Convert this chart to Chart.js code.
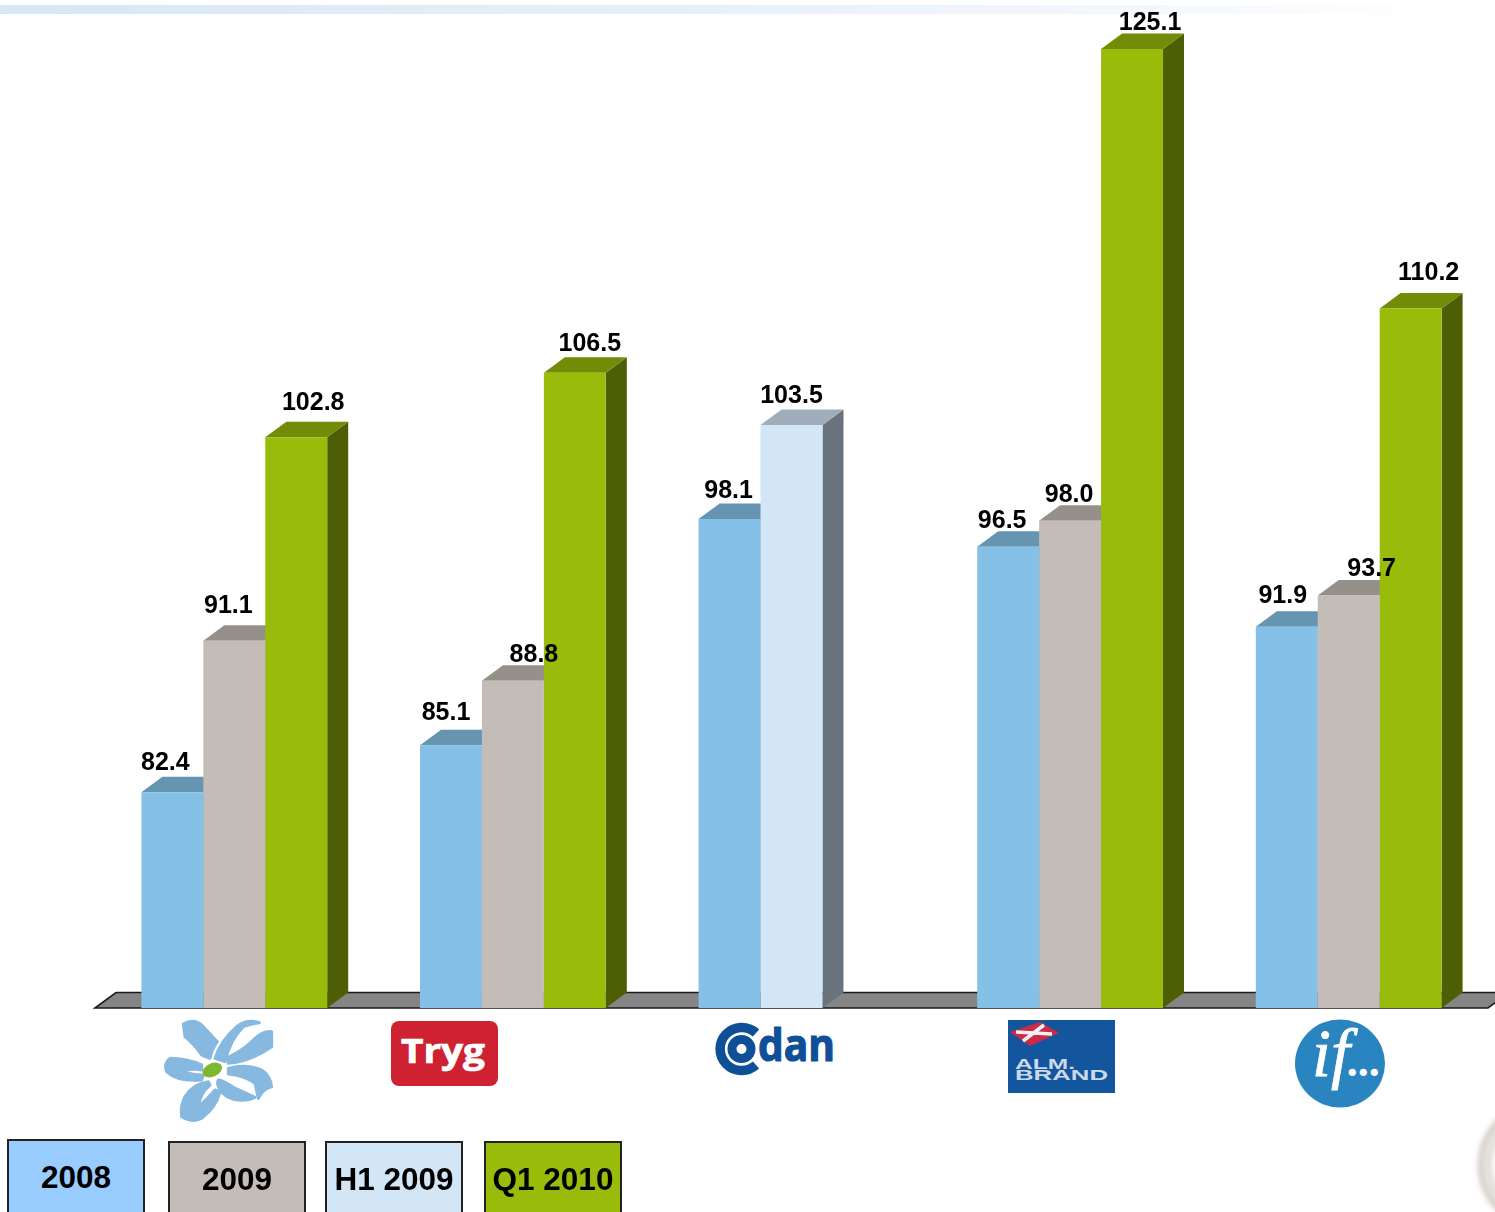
<!DOCTYPE html>
<html>
<head>
<meta charset="utf-8">
<script src="https://cdn.jsdelivr.net/npm/chart.js@4/dist/chart.umd.min.js"></script>
<style>
html,body{margin:0;padding:0;background:#fff;width:1495px;height:1212px;overflow:hidden;font-family:"Liberation Sans",Arial,sans-serif}
#band{position:absolute;left:0;top:5px;width:1495px;height:9px;background:linear-gradient(90deg,#d8e7f5 0%,#e6eff8 45%,#f3f7fc 75%,#ffffff 97%)}
#wrap{position:absolute;left:0;top:0;width:1495px;height:1212px}
#art{position:absolute;left:0;top:0}
.key{position:absolute;box-sizing:border-box;width:138px;height:76px;border:2px solid #222;display:flex;align-items:center;justify-content:center;font:bold 31.5px "Liberation Sans",Arial,sans-serif;color:#000;white-space:nowrap}
</style>
</head>
<body>
<div id="band"></div>
<svg id="art" width="1495" height="1212" viewBox="0 0 1495 1212" xmlns="http://www.w3.org/2000/svg">
  <defs><filter id="soft"><feGaussianBlur stdDeviation="2.5"/></filter><filter id="soft2"><feGaussianBlur stdDeviation="0.4"/></filter></defs>
  <!-- seal at the corner -->
  <g filter="url(#soft)" fill="none">
    <circle cx="1543" cy="1165" r="62" stroke="#d6d0c9" stroke-width="7"/>
    <circle cx="1543" cy="1165" r="54" stroke="#dfdad4" stroke-width="6"/>
  </g>
  <!-- flower logo -->
  <g transform="translate(130 1000) scale(0.3333)" filter="url(#soft2)">
    <g fill="#86b8e0" stroke="#86b8e0" stroke-width="9" stroke-linejoin="round">
      <path d="M160,72 Q190,55 215,75 L262,125 Q245,150 240,175 L215,165 Q190,130 165,110 Z"/>
      <path d="M388,68 Q350,55 320,80 Q270,125 255,175 L285,185 Q300,120 340,80 Q365,72 388,68 Z"/>
      <path d="M425,95 Q400,90 370,120 Q340,150 295,172 L295,190 Q360,185 425,140 Z"/>
      <path d="M295,205 Q350,190 395,210 Q420,225 425,260 Q400,265 385,295 L375,250 Q340,225 295,222 Z"/>
      <path d="M265,240 Q275,238 310,262 Q350,280 375,292 Q350,305 310,298 Q270,285 262,250 Z"/>
      <path d="M235,245 Q190,250 165,290 Q150,320 155,350 Q190,370 215,355 Q260,320 270,275 L255,270 Q230,300 205,320 Q210,280 240,255 Z"/>
      <path d="M215,195 Q170,175 120,175 Q100,190 110,215 Q140,245 215,240 L220,225 Q180,225 160,212 Q190,205 215,210 Z"/>
    </g>
    <ellipse cx="247" cy="210" rx="31" ry="20" transform="rotate(-25 247 210)" fill="#7fb82e"/>
  </g>
  <!-- Tryg logo -->
  <rect x="391" y="1021" width="107" height="65" rx="8" fill="#ce2233"/>
  <text x="401" y="1063" fill="#fff" stroke="#fff" stroke-width="0.7" font-family="Open Sans" font-weight="700" font-size="34" textLength="84" lengthAdjust="spacingAndGlyphs">Tryg</text>
  <!-- Codan logo -->
  <g fill="none" stroke="#0f4f97">
    <path d="M756,1033 A21.5,21.5 0 1 0 756,1065" stroke-width="9.5"/>
    <circle cx="741.5" cy="1049" r="9.5" stroke-width="9"/>
  </g>
  <text x="758" y="1061" fill="#0f4f97" stroke="#0f4f97" stroke-width="1.2" font-family="Open Sans" font-weight="700" font-size="45" textLength="77" lengthAdjust="spacingAndGlyphs">dan</text>
  <!-- Alm. Brand logo -->
  <rect x="1008" y="1020" width="107" height="73" fill="#13569e"/>
  <path d="M1010,1032 L1040,1022 L1059,1033 L1030,1046 Z" fill="#cf2a45"/>
  <path d="M1016,1032 L1052,1034 M1023,1041 L1044,1025" stroke="#f2f2f2" stroke-width="3.5" fill="none"/>
  <text x="1015" y="1068.5" fill="#cbd9ea" font-family="Liberation Sans" font-weight="700" font-size="14" textLength="60" lengthAdjust="spacingAndGlyphs">ALM.</text>
  <text x="1015" y="1079.5" fill="#cbd9ea" font-family="Liberation Sans" font-weight="700" font-size="14" textLength="93" lengthAdjust="spacingAndGlyphs">BRAND</text>
  <!-- If logo -->
  <ellipse cx="1340" cy="1063.5" rx="45" ry="44" fill="#2a84c0"/>
  <text x="1312" y="1076" fill="#fff" stroke="#fff" stroke-width="0.8" font-family="Liberation Serif" font-style="italic" font-size="68">if<tspan font-style="normal" font-weight="700" font-size="44" dx="-3" stroke-width="0">...</tspan></text>
</svg>
<div id="wrap"><canvas id="c" width="1495" height="1212"></canvas></div>
<div id="legend"></div>
<script>
const categories = ["Topdanmark", "Tryg", "Codan", "Alm. Brand", "If"];
const values2008 = [82.4, 85.1, 98.1, 96.5, 91.9];
const values2009 = [91.1, 88.8, null, 98.0, 93.7];
const valuesH12009 = [null, null, 103.5, null, null];
const valuesQ12010 = [102.8, 106.5, null, 125.1, 110.2];
const seriesNames = ["2008", "2009", "H1 2009", "Q1 2010"];

// styling only
const barColors = ["#85c1e6", "#c4bcb6", "#d3e6f6", "#99bc0a"];
const topColors = ["#6595b0", "#96908b", "#9eadb9", "#728c07"];
const sideColors = ["#4f7a94", "#6f6a66", "#69737c", "#4e5e05"];
const keyColors = ["#99ccff", "#c4bcb6", "#d3e6f6", "#99bc0a"];
const keyBoxes = [[7, 1139], [168, 1141], [325, 1141], [484, 1141]];
const labelShiftX = [[-7, -5, -1, -6, -4], [-6, 21, 0, -1, 23], [0, 0, 0, 0, 0], [17, 15, 0, 18, 18]];
const labelShiftY = [[-29, -32, -28, -26, -31], [-35, -26, 0, -26, -26], [0, 0, -29, 0, 0], [-34, -29, 0, -26, -35]];
const depthX = 21, depthY = 15.5;

const bar3d = {
  id: "bar3d",
  beforeDatasetsDraw(chart) {
    const { ctx, chartArea: a } = chart;
    ctx.save();
    ctx.beginPath();
    ctx.moveTo(a.left, a.bottom);
    ctx.lineTo(a.left + depthX, a.bottom - depthY);
    ctx.lineTo(a.right + depthX, a.bottom - depthY);
    ctx.lineTo(a.right, a.bottom);
    ctx.closePath();
    ctx.fillStyle = "#858585";
    ctx.fill();
    ctx.strokeStyle = "#1c1c1c";
    ctx.lineWidth = 1.6;
    ctx.stroke();
    chart.data.datasets.forEach((ds, i) => {
      chart.getDatasetMeta(i).data.forEach((el, j) => {
        if (ds.data[j] === null) return;
        const p = el.getProps(["x", "y", "width"], true);
        const l = p.x - p.width / 2, r = p.x + p.width / 2;
        ctx.fillStyle = sideColors[i];
        ctx.beginPath();
        ctx.moveTo(r, p.y);
        ctx.lineTo(r + depthX, p.y - depthY);
        ctx.lineTo(r + depthX, a.bottom - depthY);
        ctx.lineTo(r, a.bottom);
        ctx.closePath();
        ctx.fill();
        ctx.fillStyle = topColors[i];
        ctx.beginPath();
        ctx.moveTo(l, p.y);
        ctx.lineTo(l + depthX, p.y - depthY);
        ctx.lineTo(r + depthX, p.y - depthY);
        ctx.lineTo(r, p.y);
        ctx.closePath();
        ctx.fill();
      });
    });
    ctx.restore();
  },
  afterDatasetsDraw(chart) {
    const { ctx } = chart;
    ctx.save();
    ctx.font = 'bold 25px "Liberation Sans", Arial, sans-serif';
    ctx.fillStyle = "#000";
    ctx.textAlign = "center";
    ctx.textBaseline = "middle";
    chart.data.datasets.forEach((ds, i) => {
      chart.getDatasetMeta(i).data.forEach((el, j) => {
        if (ds.data[j] === null) return;
        const p = el.getProps(["x", "y"], true);
        ctx.fillText(ds.data[j].toFixed(1), p.x + labelShiftX[i][j], p.y + labelShiftY[i][j]);
      });
    });
    ctx.restore();
  }
};

const seriesValues = [values2008, values2009, valuesH12009, valuesQ12010];
const slots = ["first", "second", "second", "third"];

new Chart(document.getElementById("c"), {
  type: "bar",
  data: {
    labels: categories,
    datasets: seriesNames.map((name, i) => ({
      label: name,
      data: seriesValues[i],
      stack: slots[i],
      backgroundColor: barColors[i],
      borderWidth: 0,
      barPercentage: 1,
      categoryPercentage: 0.667
    }))
  },
  options: {
    responsive: false,
    animation: false,
    events: [],
    layout: { padding: { left: 95, right: 7, top: 16, bottom: 204 } },
    plugins: { legend: { display: false }, tooltip: { enabled: false }, title: { display: false } },
    scales: {
      x: { display: false, grid: { display: false } },
      y: { display: false, stacked: false, min: 70, max: 127, grid: { display: false } }
    }
  },
  plugins: [bar3d]
});

const legend = document.getElementById("legend");
seriesNames.forEach((name, i) => {
  const d = document.createElement("div");
  d.className = "key";
  d.textContent = name;
  d.style.left = keyBoxes[i][0] + "px";
  d.style.top = keyBoxes[i][1] + "px";
  d.style.background = keyColors[i];
  legend.appendChild(d);
});
</script>
</body>
</html>
